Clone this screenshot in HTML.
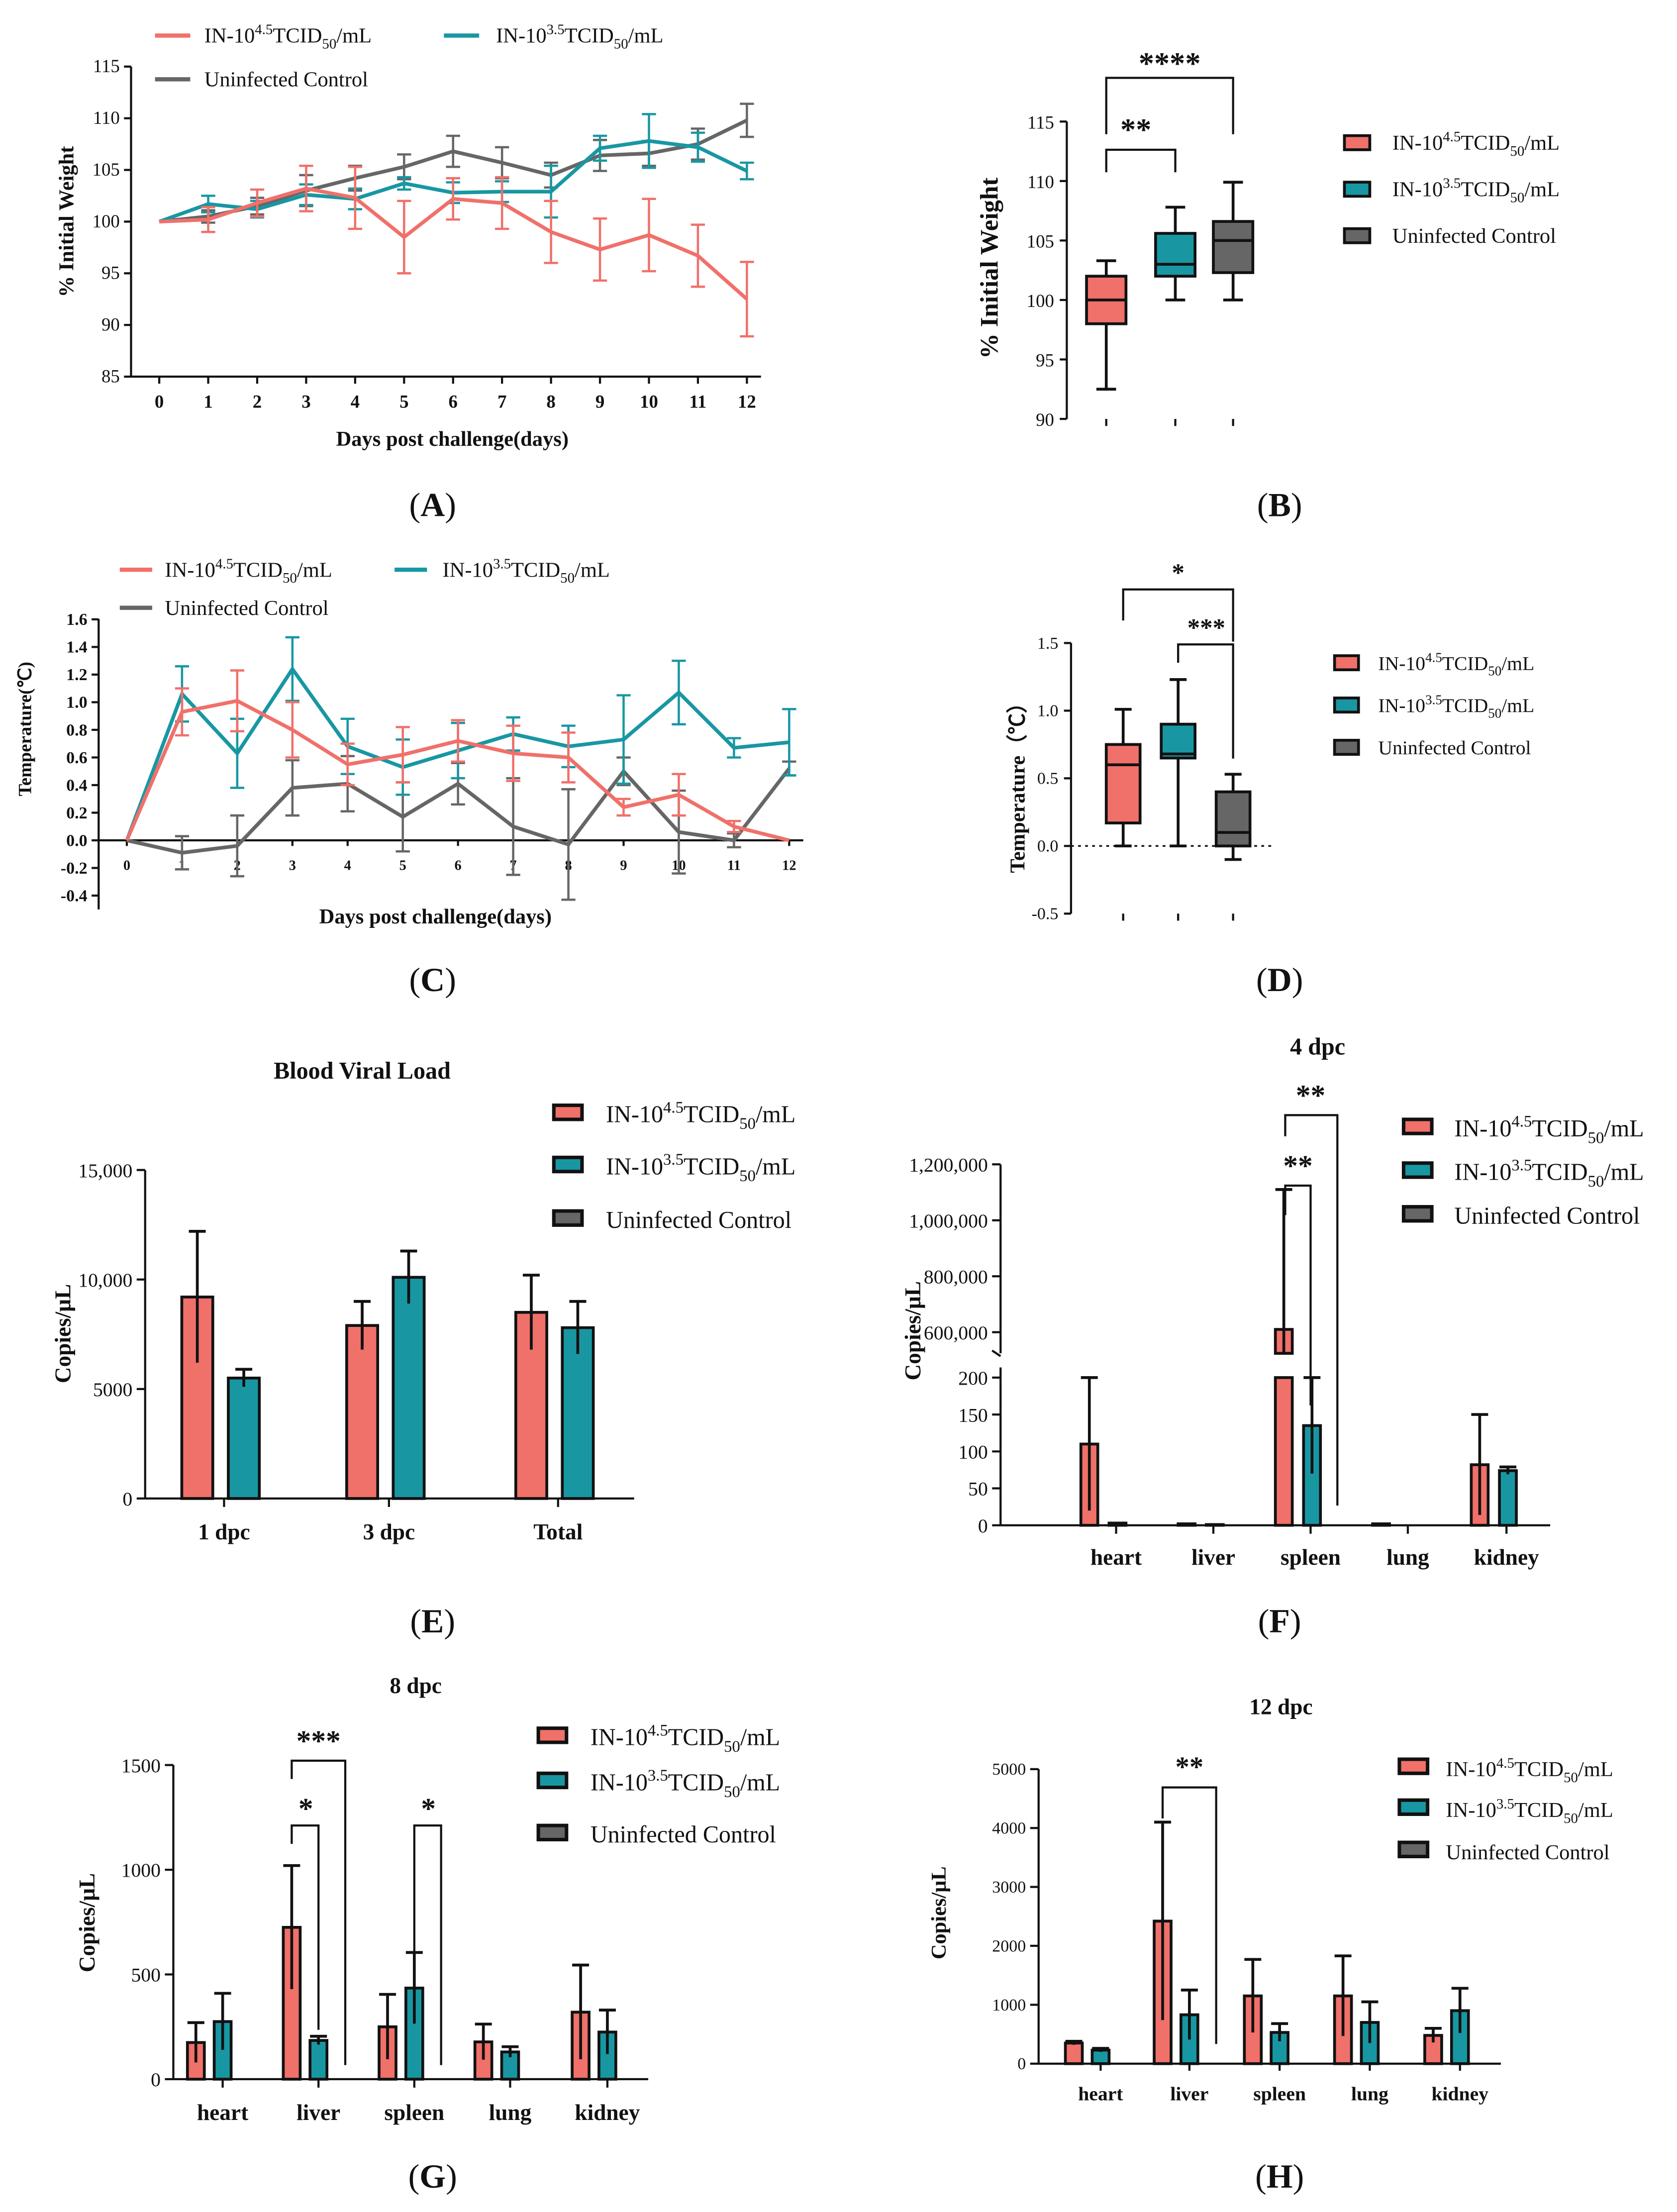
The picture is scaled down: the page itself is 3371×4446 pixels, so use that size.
<!DOCTYPE html>
<html><head><meta charset="utf-8"><style>
html,body{margin:0;padding:0;background:#fff;}
svg{display:block;}
text{font-family:"Liberation Serif",serif;fill:#111;}
</style></head><body>
<svg id="root" xmlns="http://www.w3.org/2000/svg" width="3371" height="4446" viewBox="0 0 1190 1569"></svg>
<script>
// ---------- DATA ----------
const days = [0,1,2,3,4,5,6,7,8,9,10,11,12];
const wRed = [100,100.2,101.8,103.2,102.3,98.5,102.2,101.8,99,97.3,98.7,96.7,92.5];
const wRedErr = [0,1.2,1.3,2.2,3,3.5,2,2.5,3,3,3.5,3,3.6];
const wTeal = [100,101.7,101.2,102.6,102.2,103.7,102.8,102.9,102.9,107.1,107.8,107.2,104.9];
const wTealErr = [0,0.8,0.8,1,1,0.6,1,1,2.5,1.2,2.6,1.4,0.8];
const wGray = [100,100.5,101.5,103,104.2,105.3,106.8,105.7,104.5,106.4,106.6,107.5,109.8];
const wGrayErr = [0,0.6,0.8,1.5,1.2,1.2,1.5,1.5,1.2,1.5,1.2,1.5,1.6];
const wTicks = [85,90,95,100,105,110,115];

const bCats = ['red','teal','gray'];
const bMin = [92.5,100,100];
const bQ1 = [98,102,102.3];
const bMed = [100,103,105];
const bQ3 = [102,105.6,106.6];
const bMax = [103.3,107.8,109.9];

const tRed = [0,0.93,1.01,0.8,0.55,0.62,0.72,0.63,0.6,0.24,0.33,0.1,0.0];
const tRedErr = [0,0.17,0.22,0.2,0.15,0.2,0.15,0.2,0.18,0.06,0.15,0.04,0];
const tTeal = [0,1.06,0.63,1.24,0.68,0.53,0.65,0.77,0.68,0.73,1.07,0.67,0.71];
const tTealErr = [0,0.2,0.25,0.23,0.2,0.2,0.2,0.12,0.15,0.32,0.23,0.07,0.24];
const tGray = [0,-0.09,-0.04,0.38,0.41,0.17,0.41,0.1,-0.03,0.5,0.06,0.0,0.52];
const tGrayErr = [0,0.12,0.22,0.2,0.2,0.25,0.15,0.35,0.4,0.1,0.3,0.05,0.05];
const tTicks = [-0.4,-0.2,0,0.2,0.4,0.6,0.8,1.0,1.2,1.4,1.6];

const dMin = [0,0,-0.1];
const dQ1 = [0.17,0.65,0];
const dMed = [0.6,0.68,0.1];
const dQ3 = [0.75,0.9,0.4];
const dMax = [1.01,1.23,0.53];
const dTicks = [-0.5,0,0.5,1.0,1.5];

const eCats = ['1 dpc','3 dpc','Total'];
const eRed = [9200,7900,8500];
const eRedErr = [3000,1100,1700];
const eTeal = [5500,10100,7800];
const eTealErr = [400,1200,1200];
const eTicks = [0,5000,10000,15000];
const eTickLabels = ['0','5000','10,000','15,000'];

const organs = ['heart','liver','spleen','lung','kidney'];
const fRed = [110,2,610000,2,82];
const fRedErr = [90,0,500000,0,68];
const fTeal = [3,1,135,0,74];
const fTealErr = [0,0,65,0,5];
const fLowTicks = [0,50,100,150,200];
const fHighTicks = [600000,800000,1000000,1200000];
const fHighLabels = ['600,000','800,000','1,000,000','1,200,000'];

const gRed = [175,725,250,178,320];
const gRedErr = [95,295,155,85,225];
const gTeal = [275,185,435,130,225];
const gTealErr = [135,20,170,25,105];
const gTicks = [0,500,1000,1500];

const hRed = [350,2420,1150,1150,480];
const hRedErr = [30,1680,620,680,120];
const hTeal = [230,830,530,700,900];
const hTealErr = [30,420,150,350,380];
const hTicks = [0,1000,2000,3000,4000,5000];

// ---------- HELPERS ----------
const NS='http://www.w3.org/2000/svg';
const root=document.getElementById('root');
const RED='#F0706A', TEAL='#1897A3', GRAY='#666666';
function mk(tag,attrs,name,parent){
  const el=document.createElementNS(NS,tag);
  for(const k in attrs) el.setAttribute(k,attrs[k]);
  
  
  (parent||root).appendChild(el);
  return el;
}
function ln(x1,y1,x2,y2,c,w,name,dash){
  const a={x1,y1,x2,y2,stroke:c,'stroke-width':w||1.5};
  if(dash)a['stroke-dasharray']=dash;
  return mk('line',a,name||'line');
}
function tx(x,y,s,o,name){
  o=o||{};
  const a={x,y,'font-size':o.size||14,'text-anchor':o.anchor||'middle'};
  if(o.bold)a['font-weight']='bold';
  if(o.sans)a['font-family']='"Liberation Sans",sans-serif';
  if(o.rot)a.transform='rotate(-90 '+x+' '+y+')';
  if(o.fill)a.fill=o.fill;
  const el=mk('text',a,name||'label');
  el.textContent=s;
  return el;
}
function panelLabel(x,y,letter,name){
  const el=mk('text',{x,y,'font-size':24,'text-anchor':'middle'},name);
  const a=document.createElementNS(NS,'tspan');a.textContent='(';el.appendChild(a);
  const b=document.createElementNS(NS,'tspan');b.textContent=letter;b.setAttribute('font-weight','bold');el.appendChild(b);
  const c=document.createElementNS(NS,'tspan');c.textContent=')';el.appendChild(c);
}
function legText(x,y,kind,size,name){
  const el=mk('text',{x,y,'font-size':size,'text-anchor':'start'},name);
  if(kind==='ctrl'){el.textContent='Uninfected Control';return el;}
  const up=size*0.4, dn=size*0.28;
  const parts=[['IN-10',null,0],[kind==='red'?'4.5':'3.5',size*0.68,-up],['TCID',null,up],['50',size*0.68,dn],['/mL',null,-dn]];
  parts.forEach(p=>{
    const t=document.createElementNS(NS,'tspan');
    t.textContent=p[0];
    if(p[1])t.setAttribute('font-size',p[1]);
    if(p[2])t.setAttribute('dy',p[2]);
    el.appendChild(t);
  });
  return el;
}
function errbar(x,yc,yt,yb,c,w,cap,name){
  ln(x,yt,x,yb,c,w,name);
  ln(x-cap,yt,x+cap,yt,c,w,name+'-cap-top');
  if(yb!==yt) ln(x-cap,yb,x+cap,yb,c,w,name+'-cap-bottom');
}
function bracket(x1,x2,yTop,yL,yR,label,lx,ly,size,name){
  mk('polyline',{points:`${x1},${yL} ${x1},${yTop} ${x2},${yTop} ${x2},${yR}`,fill:'none',stroke:'#111','stroke-width':1.5},name);
  tx(lx,ly,label,{size:size||20,bold:true},name+'-label');
}

// ---------- PANEL A ----------
{
  const xA=d=>113+d*(530-113)/12, yA=v=>267-(v-85)*(220/30);
  ln(93,47,93,267,'#111',1.5,'a-y-axis'); ln(93,267,540,267,'#111',1.5,'a-x-axis');
  wTicks.forEach(v=>{ln(88,yA(v),93,yA(v),'#111',1.5,'a-y-tick');tx(85,yA(v)+4,String(v),{size:13,anchor:'end'},'a-y-tick-label');});
  days.forEach(d=>{ln(xA(d),267,xA(d),272,'#111',1.5,'a-x-tick');tx(xA(d),289,String(d),{size:13,bold:true},'a-x-tick-label');});
  tx(321,316,'Days post challenge(days)',{size:15,bold:true},'a-x-axis-title');
  tx(52,157,'% Initial Weight',{size:15,bold:true,rot:true},'a-y-axis-title');
  [[wGray,wGrayErr,GRAY,'gray'],[wTeal,wTealErr,TEAL,'teal'],[wRed,wRedErr,RED,'red']].forEach(([v,e,c,n])=>{
    v.forEach((val,i)=>{ if(e[i]>0) errbar(xA(days[i]),0,yA(val+e[i]),yA(val-e[i]),c,1.6,5,'a-errorbar-'+n);});
    mk('polyline',{points:v.map((val,i)=>xA(days[i])+','+yA(val)).join(' '),fill:'none',stroke:c,'stroke-width':2.6},'a-line-'+n);
  });
  ln(110,25,135,25,RED,3,'a-legend-red-swatch'); legText(145,30,'red',15,'a-legend-red');
  ln(315,25,340,25,TEAL,3,'a-legend-teal-swatch'); legText(352,30,'teal',15,'a-legend-teal');
  ln(110,56,135,56,GRAY,3,'a-legend-gray-swatch'); legText(145,61,'ctrl',15,'a-legend-gray');
  panelLabel(307,366,'A','panel-label-a');
}
// ---------- PANEL B ----------
{
  const yB=v=>297-(v-90)*(211/25); const cx=[785,834,875]; const cols=[RED,TEAL,GRAY];
  ln(757,86,757,297,'#111',1.5,'b-y-axis');
  [90,95,100,105,110,115].forEach(v=>{ln(752,yB(v),757,yB(v),'#111',1.5,'b-y-tick');tx(748,yB(v)+5,String(v),{size:13,anchor:'end'},'b-y-tick-label');});
  cx.forEach(x=>ln(x,297,x,302,'#111',1.5,'b-x-tick'));
  tx(708,190,'% Initial Weight',{size:18,bold:true,rot:true},'b-y-axis-title');
  bCats.forEach((n,i)=>{
    const x=cx[i];
    ln(x,yB(bMax[i]),x,yB(bMin[i]),'#111',2,'b-whisker-'+n);
    ln(x-7,yB(bMax[i]),x+7,yB(bMax[i]),'#111',2,'b-whisker-cap-'+n);
    ln(x-7,yB(bMin[i]),x+7,yB(bMin[i]),'#111',2,'b-whisker-cap-'+n);
    mk('rect',{x:x-14,y:yB(bQ3[i]),width:28,height:yB(bQ1[i])-yB(bQ3[i]),fill:cols[i],stroke:'#111','stroke-width':2},'b-box-'+n);
    ln(x-14,yB(bMed[i]),x+14,yB(bMed[i]),'#111',2,'b-median-'+n);
  });
  bracket(785,834,106,122,122,'**',806,99,22,'b-sig-red-teal');
  bracket(785,875,55,95,95,'****',830,52,22,'b-sig-red-gray');
  [[RED,'red'],[TEAL,'teal'],[GRAY,'ctrl']].forEach(([c,k],i)=>{
    mk('rect',{x:954,y:96+i*33,width:18,height:10,fill:c,stroke:'#111','stroke-width':2},'b-legend-swatch-'+k);
    legText(988,106+i*33,k,15,'b-legend-'+k);
  });
  panelLabel(908,366,'B','panel-label-b');
}
// ---------- PANEL C ----------
{
  const xC=d=>90+d*(560-90)/12, yC=v=>596-v*(19.6/0.2);
  ln(70,439,70,645,'#111',1.5,'c-y-axis'); ln(70,596,570,596,'#111',1.5,'c-x-axis');
  tTicks.forEach(v=>{ln(65,yC(v),70,yC(v),'#111',1.5,'c-y-tick');tx(62,yC(v)+4,v.toFixed(1),{size:12,bold:true,anchor:'end'},'c-y-tick-label');});
  days.forEach(d=>{ln(xC(d),596,xC(d),600,'#111',1.5,'c-x-tick');tx(xC(d),617,String(d),{size:10,bold:true},'c-x-tick-label');});
  tx(309,655,'Days post challenge(days)',{size:15,bold:true},'c-x-axis-title');
  tx(22,517,'Temperature(℃)',{size:13,bold:true,rot:true},'c-y-axis-title');
  [[tGray,tGrayErr,GRAY,'gray'],[tTeal,tTealErr,TEAL,'teal'],[tRed,tRedErr,RED,'red']].forEach(([v,e,c,n])=>{
    v.forEach((val,i)=>{ if(e[i]>0) errbar(xC(days[i]),0,yC(val+e[i]),yC(val-e[i]),c,1.6,5,'c-errorbar-'+n);});
    mk('polyline',{points:v.map((val,i)=>xC(days[i])+','+yC(val)).join(' '),fill:'none',stroke:c,'stroke-width':2.6},'c-line-'+n);
  });
  ln(85,404,108,404,RED,3,'c-legend-red-swatch'); legText(117,409,'red',15,'c-legend-red');
  ln(280,404,303,404,TEAL,3,'c-legend-teal-swatch'); legText(314,409,'teal',15,'c-legend-teal');
  ln(85,431,108,431,GRAY,3,'c-legend-gray-swatch'); legText(117,436,'ctrl',15,'c-legend-gray');
  panelLabel(307,703,'C','panel-label-c');
}
// ---------- PANEL D ----------
{
  const yD=v=>600-v*96; const cx=[797,836,875]; const cols=[RED,TEAL,GRAY];
  ln(760,456,760,648,'#111',1.5,'d-y-axis');
  dTicks.forEach(v=>{ln(755,yD(v),760,yD(v),'#111',1.5,'d-y-tick');tx(751,yD(v)+4,v.toFixed(1),{size:12,anchor:'end'},'d-y-tick-label');});
  cx.forEach(x=>ln(x,648,x,653,'#111',1.5,'d-x-tick'));
  ln(760,600,902,600,'#111',1.2,'d-zero-line','2,3');
  tx(727,555,'Temperature（℃）',{size:15,bold:true,rot:true},'d-y-axis-title');
  [0,1,2].forEach(i=>{
    const x=cx[i]; const n=['red','teal','gray'][i];
    ln(x,yD(dMax[i]),x,yD(dMin[i]),'#111',2,'d-whisker-'+n);
    ln(x-6,yD(dMax[i]),x+6,yD(dMax[i]),'#111',2,'d-whisker-cap-'+n);
    ln(x-6,yD(dMin[i]),x+6,yD(dMin[i]),'#111',2,'d-whisker-cap-'+n);
    mk('rect',{x:x-12,y:yD(dQ3[i]),width:24,height:yD(dQ1[i])-yD(dQ3[i]),fill:cols[i],stroke:'#111','stroke-width':2},'d-box-'+n);
    ln(x-12,yD(dMed[i]),x+12,yD(dMed[i]),'#111',2,'d-median-'+n);
  });
  bracket(797,875,418,440,455,'*',836,412,18,'d-sig-red-gray');
  bracket(836,875,457,470,538,'***',856,451,18,'d-sig-teal-gray');
  [[RED,'red'],[TEAL,'teal'],[GRAY,'ctrl']].forEach(([c,k],i)=>{
    mk('rect',{x:947,y:465+i*30,width:17,height:10,fill:c,stroke:'#111','stroke-width':2},'d-legend-swatch-'+k);
    legText(978,475+i*30,k,14,'d-legend-'+k);
  });
  panelLabel(908,703,'D','panel-label-d');
}
// ---------- BAR HELPERS ----------
function bars(pref,cats,cx,red,redE,teal,tealE,y0,yf,offR,offT,w){
  cats.forEach((c,i)=>{
    [[red,redE,RED,'red',offR],[teal,tealE,TEAL,'teal',offT]].forEach(([v,e,col,n,off])=>{
      const x=cx[i]+off, top=yf(v[i]);
      mk('rect',{x:x-w/2,y:top,width:w,height:Math.max(0,y0-top),fill:col,stroke:'#111','stroke-width':2},pref+'-bar-'+n+'-'+c);
      if(e[i]>0){
        const yt=yf(v[i]+e[i]), yb=Math.min(y0,yf(Math.max(0,v[i]-e[i])));
        ln(x,yt,x,yb,'#111',2,pref+'-errorbar-'+n);
        ln(x-6,yt,x+6,yt,'#111',2,pref+'-errorbar-cap-'+n);
      }
    });
  });
}
function barLegend(pref,x,tx0,ys,size){
  [[RED,'red'],[TEAL,'teal'],[GRAY,'ctrl']].forEach(([c,k],i)=>{
    mk('rect',{x:x,y:ys[i]-6,width:20,height:10,fill:c,stroke:'#111','stroke-width':2.5},pref+'-legend-swatch-'+k);
    legText(tx0,ys[i]+6,k,size,pref+'-legend-'+k);
  });
}
// ---------- PANEL E ----------
{
  const yE=v=>1063-v*(77.7/5000); const cx=[159,276,396];
  tx(257,765,'Blood Viral Load',{size:17,bold:true,sans:true},'e-title');
  ln(103,830,103,1063,'#111',1.5,'e-y-axis'); ln(103,1063,450,1063,'#111',1.5,'e-x-axis');
  eTicks.forEach((v,i)=>{ln(97,yE(v),103,yE(v),'#111',1.5,'e-y-tick');tx(94,yE(v)+5,eTickLabels[i],{size:14,anchor:'end'},'e-y-tick-label');});
  tx(50,946,'Copies/μL',{size:16,bold:true,rot:true},'e-y-axis-title');
  eCats.forEach((c,i)=>{ln(cx[i],1063,cx[i],1069,'#111',1.5,'e-x-tick');tx(cx[i],1092,c,{size:16,bold:true},'e-x-tick-label');});
  bars('e',eCats,cx,eRed,eRedErr,eTeal,eTealErr,1063,yE,-19,14,22);
  barLegend('e',393,430,[790,827,865],17);
  panelLabel(307,1158,'E','panel-label-e');
}
// ---------- PANEL F ----------
{
  const y0=1082, yLow=v=>y0-v*(26.2/50);
  const yHigh=v=>945-(v-600000)*(39.7/200000);
  const cx=[792,861,930,999,1069];
  tx(935,748,'4 dpc',{size:17,bold:true},'f-title');
  ln(710,826,710,960,'#111',1.5,'f-y-axis-upper'); ln(710,970,710,1082,'#111',1.5,'f-y-axis-lower');
  ln(704,958,710,962,'#111',1.5,'f-axis-break');
  ln(710,1082,1100,1082,'#111',1.5,'f-x-axis');
  fLowTicks.forEach(v=>{ln(704,yLow(v),710,yLow(v),'#111',1.5,'f-y-tick');tx(701,yLow(v)+5,String(v),{size:14,anchor:'end'},'f-y-tick-label');});
  fHighTicks.forEach((v,i)=>{ln(704,yHigh(v),710,yHigh(v),'#111',1.5,'f-y-tick');tx(701,yHigh(v)+5,fHighLabels[i],{size:14,anchor:'end'},'f-y-tick-label');});
  tx(653,944,'Copies/μL',{size:16,bold:true,rot:true},'f-y-axis-title');
  organs.forEach((c,i)=>{ln(cx[i],1082,cx[i],1088,'#111',1.5,'f-x-tick');tx(cx[i],1110,c,{size:16,bold:true},'f-x-tick-label');});
  organs.forEach((c,i)=>{
    [[fRed,fRedErr,RED,'red',-19],[fTeal,fTealErr,TEAL,'teal',1]].forEach(([v,e,col,n,off])=>{
      const x=cx[i]+off;
      if(v[i]>200){
        mk('rect',{x:x-6,y:yLow(200),width:12,height:y0-yLow(200),fill:col,stroke:'#111','stroke-width':2},'f-bar-'+n+'-'+c+'-lower');
        mk('rect',{x:x-6,y:yHigh(v[i]),width:12,height:960-yHigh(v[i]),fill:col,stroke:'#111','stroke-width':2},'f-bar-'+n+'-'+c+'-upper');
        const yt=yHigh(v[i]+e[i]);
        ln(x,yt,x,960,'#111',2,'f-errorbar-'+n); ln(x-6,yt,x+6,yt,'#111',2,'f-errorbar-cap-'+n);
      } else {
        const top=yLow(v[i]);
        mk('rect',{x:x-6,y:top,width:12,height:y0-top,fill:col,stroke:'#111','stroke-width':2},'f-bar-'+n+'-'+c);
        if(e[i]>0){const yt=yLow(v[i]+e[i]),yb=yLow(Math.max(0,v[i]-e[i]));
          ln(x,yt,x,yb,'#111',2,'f-errorbar-'+n); ln(x-6,yt,x+6,yt,'#111',2,'f-errorbar-cap-'+n);}
      }
    });
  });
  bracket(912,930,841,862,997,'**',921,834,21,'f-sig-spleen-1');
  bracket(912,949,791,806,1068,'**',930,784,21,'f-sig-spleen-2');
  barLegend('f',996,1032,[800,831,862],17);
  panelLabel(908,1158,'F','panel-label-f');
}
// ---------- PANEL G ----------
{
  const yG=v=>1475-v*(74.3/500); const cx=[158,226,294,362,431];
  tx(295,1201,'8 dpc',{size:16,bold:true},'g-title');
  ln(123,1252,123,1475,'#111',1.5,'g-y-axis'); ln(123,1475,460,1475,'#111',1.5,'g-x-axis');
  gTicks.forEach(v=>{ln(117,yG(v),123,yG(v),'#111',1.5,'g-y-tick');tx(114,yG(v)+5,String(v),{size:14,anchor:'end'},'g-y-tick-label');});
  tx(67,1364,'Copies/μL',{size:16,bold:true,rot:true},'g-y-axis-title');
  organs.forEach((c,i)=>{ln(cx[i],1475,cx[i],1481,'#111',1.5,'g-x-tick');tx(cx[i],1504,c,{size:16,bold:true},'g-x-tick-label');});
  bars('g',organs,cx,gRed,gRedErr,gTeal,gTealErr,1475,yG,-19,0,12);
  bracket(207,245,1249,1262,1465,'***',226,1242,21,'g-sig-liver-1');
  bracket(207,226,1295,1308,1440,'*',217,1290,21,'g-sig-liver-2');
  bracket(294,313,1295,1400,1465,'*',304,1290,21,'g-sig-spleen');
  barLegend('g',382,419,[1232,1264,1301],17);
  panelLabel(307,1552,'G','panel-label-g');
}
// ---------- PANEL H ----------
{
  const yH=v=>1464-v*(41.8/1000); const cx=[781,844,908,972,1036];
  tx(909,1216,'12 dpc',{size:16,bold:true},'h-title');
  ln(737,1255,737,1464,'#111',1.5,'h-y-axis'); ln(737,1464,1065,1464,'#111',1.5,'h-x-axis');
  hTicks.forEach(v=>{ln(731,yH(v),737,yH(v),'#111',1.5,'h-y-tick');tx(728,yH(v)+4,String(v),{size:12,anchor:'end'},'h-y-tick-label');});
  tx(671,1357,'Copies/μL',{size:15,bold:true,rot:true},'h-y-axis-title');
  organs.forEach((c,i)=>{ln(cx[i],1464,cx[i],1469,'#111',1.5,'h-x-tick');tx(cx[i],1490,c,{size:14,bold:true},'h-x-tick-label');});
  bars('h',organs,cx,hRed,hRedErr,hTeal,hTealErr,1464,yH,-19,0,12);
  bracket(825,863,1268,1290,1450,'**',844,1260,20,'h-sig-liver');
  barLegend('h',993,1026,[1254,1283,1313],15);
  panelLabel(908,1552,'H','panel-label-h');
}
</script>
</body></html>
